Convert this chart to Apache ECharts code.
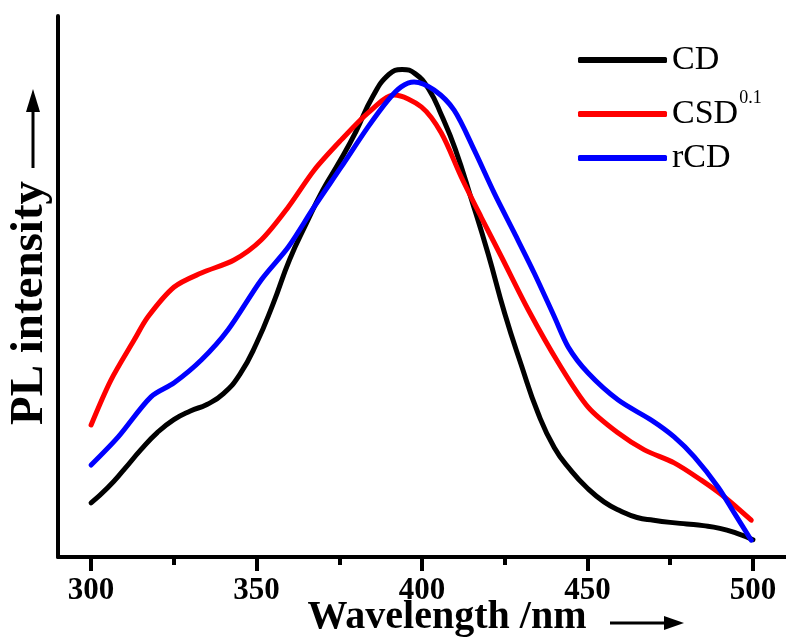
<!DOCTYPE html>
<html>
<head>
<meta charset="utf-8">
<script src="https://cdn.jsdelivr.net/npm/echarts@6/dist/echarts.min.js"></script>
<style>html,body{margin:0;padding:0;background:#fff;}#c{width:786px;height:644px;}</style>
</head>
<body>
<div id="c"></div>
<script>
const seriesNames = ['CD', 'CSD0.1', 'rCD'];
const seriesColors = ['#000000', '#ff0000', '#0000ff'];
const majorTicks = [300, 350, 400, 450, 500];
const minorTicks = [325, 375, 425, 475];

const cdX = [300, 305, 310, 315, 320, 325, 330, 335, 340, 345, 350, 355, 360, 365, 370, 375, 380, 385, 390, 394, 398, 402, 406, 410, 415, 420, 425, 430, 435, 440, 445, 450, 455, 460, 465, 470, 475, 480, 485, 490, 495, 500];
const cdY = [10.0, 12.8, 16.2, 19.8, 23.0, 25.4, 27.0, 28.2, 30.2, 33.8, 39.5, 46.8, 55.0, 61.6, 67.8, 73.0, 78.6, 85.0, 89.2, 90.1, 89.3, 86.5, 81.5, 75.5, 66.0, 56.0, 45.0, 35.5, 26.7, 20.2, 16.0, 12.7, 10.2, 8.5, 7.3, 6.8, 6.4, 6.1, 5.8, 5.3, 4.4, 3.2];

const csdX = [300, 306, 313, 317.2, 325.1, 333.3, 343.2, 351.4, 359.6, 367.4, 375.6, 383.7, 391.6, 399.8, 405.8, 411.9, 417.9, 424.0, 432.1, 441.2, 450.2, 459.3, 467.2, 476.2, 484.4, 491.4, 499.5];
const csdY = [24.4, 32.7, 40.1, 44.4, 49.9, 52.5, 54.9, 58.6, 64.7, 71.5, 77.1, 82.1, 85.4, 83.2, 78.4, 70.2, 62.8, 55.5, 45.7, 35.9, 27.7, 22.9, 19.8, 17.4, 14.2, 11.1, 6.8];

const rcdX = [300, 308.2, 318.1, 325.1, 333.3, 341.4, 351.4, 359.6, 367.4, 375.6, 383.7, 389.8, 393.7, 397.6, 403.7, 409.7, 415.8, 421.8, 427.9, 433.9, 440.0, 444.2, 450.2, 459.3, 469.3, 476.2, 482.3, 489.5, 494.4, 499.5];
const rcdY = [17.0, 22.2, 29.6, 32.2, 36.4, 42.0, 51.2, 57.3, 64.7, 72.1, 79.5, 84.5, 86.9, 87.8, 86.3, 82.6, 75.2, 67.3, 59.9, 52.5, 44.4, 38.8, 34.0, 29.0, 25.3, 22.2, 18.5, 12.9, 8.1, 3.1];

const xs = [cdX, csdX, rcdX];
const ys = [cdY, csdY, rcdY];
const smoothness = [0.5, 0.3, 0.3];

const serif = '"Liberation Serif", "DejaVu Serif", serif';
const chart = echarts.init(document.getElementById('c'));

const series = seriesNames.map((n, i) => ({
  name: n,
  type: 'line',
  data: xs[i].map((x, j) => [x, ys[i][j]]),
  smooth: smoothness[i],
  showSymbol: false,
  symbol: 'none',
  lineStyle: { color: seriesColors[i], width: 5, cap: 'round', join: 'round' },
  itemStyle: { color: seriesColors[i] },
  clip: false,
  animation: false
}));

const legendTops = [38, 84, 136];
const legends = seriesNames.map((n, i) => ({
  data: [n],
  left: 573,
  top: legendTops[i],
  orient: 'vertical',
  icon: 'roundRect',
  itemWidth: 89,
  itemHeight: 6,
  itemGap: 0,
  selectedMode: false,
  formatter: function (name) {
    if (name === 'CSD0.1') return '{a|CSD}{s|0.1}';
    return '{a|' + name + '}';
  },
  textStyle: {
    rich: {
      a: { fontFamily: serif, fontSize: 34, color: '#000', lineHeight: 50 },
      s: { fontFamily: serif, fontSize: 18, color: '#000', lineHeight: 18, verticalAlign: 'top', padding: [0, 0, 0, 1] }
    }
  }
}));

chart.setOption({
  animation: false,
  backgroundColor: '#fff',
  grid: { left: 58, right: 0, top: 16, bottom: 87, containLabel: false },
  legend: legends,
  xAxis: [{
    type: 'value',
    min: 290,
    max: 510,
    position: 'bottom',
    axisLine: { show: true, lineStyle: { color: '#000', width: 4 } },
    axisTick: { show: true, length: 14, lineStyle: { color: '#000', width: 4 }, customValues: majorTicks },
    axisLabel: { show: true, customValues: majorTicks, margin: 18, color: '#000', fontFamily: serif, fontWeight: 'bold', fontSize: 31 },
    splitLine: { show: false }
  }, {
    type: 'value',
    min: 290,
    max: 510,
    position: 'bottom',
    axisLine: { show: false },
    axisTick: { show: true, length: 8, lineStyle: { color: '#000', width: 4 }, customValues: minorTicks },
    axisLabel: { show: false },
    splitLine: { show: false }
  }],
  yAxis: {
    type: 'value',
    min: 0,
    max: 100,
    axisLine: { show: true, lineStyle: { color: '#000', width: 4 } },
    axisTick: { show: false },
    axisLabel: { show: false },
    splitLine: { show: false }
  },
  graphic: [
    { type: 'text', x: 447, y: 618, style: { text: 'Wavelength /nm', font: 'bold 40px ' + serif, fill: '#000', align: 'center', verticalAlign: 'middle' } },
    { type: 'line', shape: { x1: 610, y1: 623, x2: 668, y2: 623 }, style: { stroke: '#000', lineWidth: 3 } },
    { type: 'polygon', shape: { points: [[684, 623], [664, 616], [664, 630]] }, style: { fill: '#000' } },
    { type: 'text', x: 30, y: 303, rotation: Math.PI / 2, style: { text: 'PL intensity', font: 'bold 47px ' + serif, fill: '#000', align: 'center', verticalAlign: 'middle' } },
    { type: 'line', shape: { x1: 33, y1: 168, x2: 33, y2: 108 }, style: { stroke: '#000', lineWidth: 3 } },
    { type: 'polygon', shape: { points: [[33, 89], [26, 112], [40, 112]] }, style: { fill: '#000' } }
  ],
  series: series
});
</script>
</body>
</html>
